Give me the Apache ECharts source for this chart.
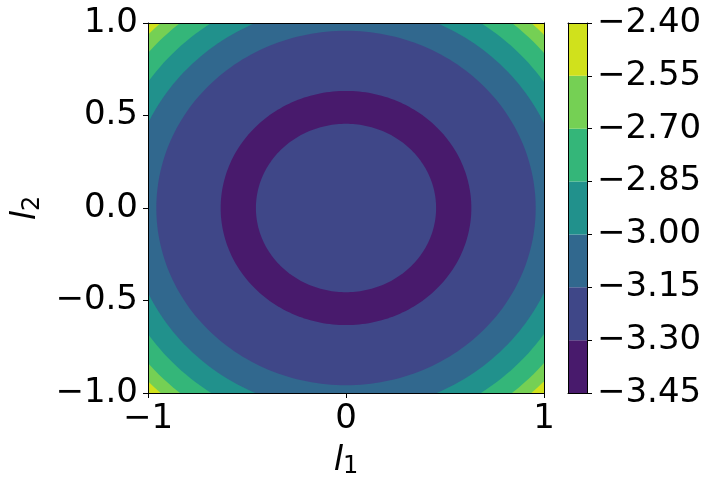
<!DOCTYPE html>
<html>
<head>
<meta charset="utf-8">
<script src="https://cdn.jsdelivr.net/npm/echarts@6/dist/echarts.min.js"></script>
<style>
html,body{margin:0;padding:0;background:#fff;}
#chart{width:713px;height:489px;}
</style>
</head>
<body>
<div id="chart"></div>
<script>
// Contour levels (colorbar boundaries)
const levels = [-3.45, -3.30, -3.15, -3.00, -2.85, -2.70, -2.55, -2.40];
// Band fill colours (viridis sampled at band midpoints)
const bandColors = ['#481a6c', '#3f4788', '#31688e', '#21918c', '#34b679', '#75d054', '#d0e11c'];
// Contour lines: level value, radius in (l1, l2) units
const contourLevel  = [-2.55, -2.70, -2.85, -3.00, -3.15, -3.30, -3.30];
const contourRadius = [1.37, 1.305, 1.21, 1.10, 0.958, 0.633, 0.455];
// band index lying inside each contour
const insideBand    = [5, 4, 3, 2, 1, 0, 1];
// band outside the outermost contour
const outerBand = 6;
// tick values
const xTicks = [-1, 0, 1];
const yTicks = [-1.0, -0.5, 0.0, 0.5, 1.0];

const FONT = 'DejaVu Sans';
const FS = 34;
const minus = v => (v < 0 ? '\u2212' : '') + Math.abs(v);

const chart = echarts.init(document.getElementById('chart'), null, {renderer: 'canvas'});

const spine = {show: true, onZero: false, lineStyle: {color: '#000', width: 1}};
const tick = {show: true, inside: false, length: 5, lineStyle: {color: '#000', width: 1}};
const labelStyle = {color: '#000', fontFamily: FONT, fontSize: FS};
const nameRich = {
  i: {fontFamily: FONT, fontSize: FS, fontStyle: 'italic', color: '#000'},
  s: {fontFamily: FONT, fontSize: 24, color: '#000', padding: [12, 0, 0, 0]}
};

const contourData = contourRadius.map((r, k) => [r, insideBand[k], contourLevel[k]]);
const barData = bandColors.map((c, k) => [k]);

const option = {
  animation: false,
  backgroundColor: '#fff',
  grid: [
    {left: 148, top: 23, width: 396, height: 370},
    {left: 568, top: 23, width: 19, height: 370}
  ],
  xAxis: [
    {type: 'value', gridIndex: 0, min: xTicks[0], max: xTicks[xTicks.length - 1], interval: 1,
     position: 'bottom', z: 10, axisLine: spine, axisTick: tick, splitLine: {show: false},
     axisLabel: Object.assign({margin: 9, formatter: v => minus(Math.round(v))}, labelStyle),
     name: '{i|l}{s|1}', nameLocation: 'middle', nameGap: 50,
     nameTextStyle: {rich: nameRich}},
    {type: 'value', gridIndex: 0, min: -1, max: 1, position: 'top', z: 10,
     axisLine: spine, axisTick: {show: false}, axisLabel: {show: false}, splitLine: {show: false}},
    {type: 'value', gridIndex: 1, min: 0, max: 1, position: 'bottom', z: 10,
     axisLine: spine, axisTick: {show: false}, axisLabel: {show: false}, splitLine: {show: false}},
    {type: 'value', gridIndex: 1, min: 0, max: 1, position: 'top', z: 10,
     axisLine: spine, axisTick: {show: false}, axisLabel: {show: false}, splitLine: {show: false}}
  ],
  yAxis: [
    {type: 'value', gridIndex: 0, min: yTicks[0], max: yTicks[yTicks.length - 1], interval: 0.5,
     position: 'left', z: 10, axisLine: spine, axisTick: tick, splitLine: {show: false},
     axisLabel: Object.assign({margin: 10, formatter: v => (v < -1e-9 ? '\u2212' : '') + Math.abs(v).toFixed(1)}, labelStyle),
     name: '{i|l}{s|2}', nameLocation: 'middle', nameGap: 102, nameRotate: 90,
     nameTextStyle: {rich: nameRich}},
    {type: 'value', gridIndex: 0, min: -1, max: 1, position: 'right', z: 10,
     axisLine: spine, axisTick: {show: false}, axisLabel: {show: false}, splitLine: {show: false}},
    {type: 'value', gridIndex: 1, min: levels[0], max: levels[levels.length - 1], interval: 0.15,
     position: 'right', z: 10, axisLine: spine, axisTick: tick, splitLine: {show: false},
     axisLabel: Object.assign({margin: 10, showMinLabel: true, showMaxLabel: true,
       formatter: v => (v < 0 ? '\u2212' : '') + Math.abs(v).toFixed(2)}, labelStyle)},
    {type: 'value', gridIndex: 1, min: levels[0], max: levels[levels.length - 1], position: 'left', z: 10,
     axisLine: spine, axisTick: {show: false}, axisLabel: {show: false}, splitLine: {show: false}}
  ],
  series: [
    {
      type: 'custom', name: 'outer', xAxisIndex: 0, yAxisIndex: 0, clip: true, z: 1,
      data: [[outerBand]],
      renderItem: function (params, api) {
        const p0 = api.coord([xTicks[0], yTicks[yTicks.length - 1]]);
        const p1 = api.coord([xTicks[xTicks.length - 1], yTicks[0]]);
        return {type: 'rect', shape: {x: p0[0], y: p0[1], width: p1[0] - p0[0], height: p1[1] - p0[1]},
                style: {fill: bandColors[api.value(0)]}};
      }
    },
    {
      type: 'custom', name: 'contours', xAxisIndex: 0, yAxisIndex: 0, clip: true, z: 2,
      data: contourData,
      renderItem: function (params, api) {
        const r = api.value(0);
        const b = api.value(1);
        const pts = [];
        const N = 240;
        for (let k = 0; k < N; k++) {
          const t = 2 * Math.PI * k / N;
          pts.push(api.coord([r * Math.cos(t), r * Math.sin(t)]));
        }
        return {type: 'polygon', shape: {points: pts}, style: {fill: bandColors[b]}};
      }
    },
    {
      type: 'custom', name: 'colorbar', xAxisIndex: 2, yAxisIndex: 2, z: 2,
      data: barData,
      renderItem: function (params, api) {
        const k = api.value(0);
        const p0 = api.coord([0, levels[k + 1]]);
        const p1 = api.coord([1, levels[k]]);
        return {type: 'rect', shape: {x: p0[0], y: p0[1], width: p1[0] - p0[0], height: p1[1] - p0[1]},
                style: {fill: bandColors[k]}};
      }
    }
  ]
};
chart.setOption(option);
</script>
</body>
</html>
